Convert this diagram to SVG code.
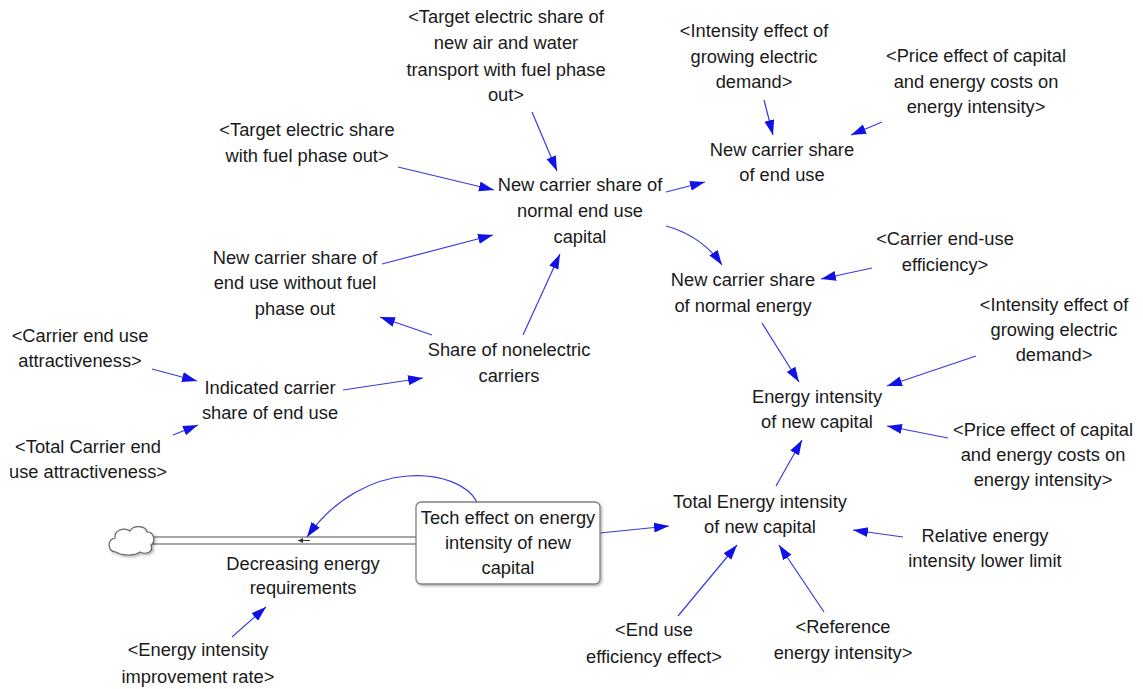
<svg xmlns="http://www.w3.org/2000/svg" width="1143" height="689" viewBox="0 0 1143 689">
  <style>
    text { font-family: "Liberation Sans", Arial, sans-serif; font-size: 18.3px; fill: #1a1a1a; text-anchor: middle; }
    .link { fill: none; stroke: #3a3ae0; stroke-width: 1.2; marker-end: url(#head); }
    .pipe { fill: none; stroke: #8a8a8a; stroke-width: 1.3; }
  </style>
  <defs>
    <marker id="head" markerUnits="userSpaceOnUse" markerWidth="16" markerHeight="12" refX="15" refY="5" orient="auto">
      <path d="M0,0 L15,5 L0,10 Z" fill="#1010e8"/>
    </marker>
    <marker id="tiny" markerUnits="userSpaceOnUse" markerWidth="6" markerHeight="6" refX="5" refY="2.5" orient="auto">
      <path d="M0,0 L5,2.5 L0,5 Z" fill="#333"/>
    </marker>
    <filter id="shadow" x="-10%" y="-10%" width="130%" height="130%">
      <feDropShadow dx="1.5" dy="1.5" stdDeviation="1.2" flood-color="#000" flood-opacity="0.3"/>
    </filter>
  </defs>
  <rect width="1143" height="689" fill="#ffffff"/>

  <!-- flow pipe and cloud source/sink -->
  <g id="flow">
    <line class="pipe" x1="150" y1="537" x2="416" y2="537"/>
    <line class="pipe" x1="150" y1="544" x2="416" y2="544"/>
    <path d="M116,552 C107,551 107,540 115,538 C114,530 124,527 130,531 C133,525 145,525 147,532 C154,532 156,541 151,545 C154,552 146,555 140,552 C135,556 122,556 116,552 Z" fill="#ffffff" stroke="#666" stroke-width="1.2" filter="url(#shadow)"/>
    <line x1="310" y1="540.5" x2="298" y2="540.5" stroke="#333" stroke-width="1" marker-end="url(#tiny)"/>
  </g>

  <!-- connectors -->
  <g id="connectors">
    <path class="link" d="M532,112 L557,171"/>
    <path class="link" d="M398,167 L494,190"/>
    <path class="link" d="M382,264 L493,235"/>
    <path class="link" d="M523,335 L560,254"/>
    <path class="link" d="M432,335 L380,317"/>
    <path class="link" d="M343,390 L423,378"/>
    <path class="link" d="M152,369 L197,381"/>
    <path class="link" d="M173,435 L198,425"/>
    <path class="link" d="M666,192 L705,182"/>
    <path class="link" d="M666,226 Q702,236 722,265"/>
    <path class="link" d="M764,100 L773,135"/>
    <path class="link" d="M882,122 L851,135"/>
    <path class="link" d="M872,268 L821,279"/>
    <path class="link" d="M762,323 L799,382"/>
    <path class="link" d="M976,356 L887,386"/>
    <path class="link" d="M948,438 L887,426"/>
    <path class="link" d="M776,486 L802,440"/>
    <path class="link" d="M600,533 L669,526"/>
    <path class="link" d="M903,537 L853,530"/>
    <path class="link" d="M678,616 L737,545"/>
    <path class="link" d="M824,612 L779,545"/>
    <path class="link" d="M232,637 L266,607"/>
    <path class="link" d="M477,502 C460,468 365,455 307,537"/>
  </g>

  <!-- stock -->
  <g id="tech-effect">
    <rect x="416" y="502" width="184" height="82" rx="5" fill="#ffffff" stroke="#808080" stroke-width="1.3" filter="url(#shadow)"/>
    <text x="508" y="524">Tech effect on energy</text>
    <text x="508" y="549">intensity of new</text>
    <text x="508" y="574">capital</text>
  </g>

  <!-- variables -->
  <g id="target-air-water">
    <text x="506" y="23">&lt;Target electric share of</text>
    <text x="506" y="49">new air and water</text>
    <text x="506" y="76">transport with fuel phase</text>
    <text x="506" y="101">out&gt;</text>
  </g>
  <g id="target-fuel-phase-out">
    <text x="307" y="136">&lt;Target electric share</text>
    <text x="307" y="162">with fuel phase out&gt;</text>
  </g>
  <g id="new-share-normal-capital">
    <text x="580" y="191">New carrier share of</text>
    <text x="580" y="217">normal end use</text>
    <text x="580" y="243">capital</text>
  </g>
  <g id="new-share-end-use">
    <text x="782" y="156">New carrier share</text>
    <text x="782" y="181">of end use</text>
  </g>
  <g id="intensity-effect-top">
    <text x="754" y="37">&lt;Intensity effect of</text>
    <text x="754" y="63">growing electric</text>
    <text x="754" y="88">demand&gt;</text>
  </g>
  <g id="price-effect-top">
    <text x="976" y="62">&lt;Price effect of capital</text>
    <text x="976" y="88">and energy costs on</text>
    <text x="976" y="113">energy intensity&gt;</text>
  </g>
  <g id="new-share-normal-energy">
    <text x="743" y="286">New carrier share</text>
    <text x="743" y="312">of normal energy</text>
  </g>
  <g id="carrier-efficiency">
    <text x="945" y="245">&lt;Carrier end-use</text>
    <text x="945" y="271">efficiency&gt;</text>
  </g>
  <g id="intensity-effect-right">
    <text x="1054" y="311">&lt;Intensity effect of</text>
    <text x="1054" y="336">growing electric</text>
    <text x="1054" y="361">demand&gt;</text>
  </g>
  <g id="energy-intensity-new-capital">
    <text x="817" y="403">Energy intensity</text>
    <text x="817" y="428">of new capital</text>
  </g>
  <g id="price-effect-right">
    <text x="1043" y="436">&lt;Price effect of capital</text>
    <text x="1043" y="461">and energy costs on</text>
    <text x="1043" y="486">energy intensity&gt;</text>
  </g>
  <g id="total-energy-intensity">
    <text x="760" y="508">Total Energy intensity</text>
    <text x="760" y="533">of new capital</text>
  </g>
  <g id="relative-lower-limit">
    <text x="985" y="542">Relative energy</text>
    <text x="985" y="567">intensity lower limit</text>
  </g>
  <g id="end-use-efficiency-effect">
    <text x="654" y="636">&lt;End use</text>
    <text x="654" y="663">efficiency effect&gt;</text>
  </g>
  <g id="reference-energy-intensity">
    <text x="843" y="633">&lt;Reference</text>
    <text x="843" y="659">energy intensity&gt;</text>
  </g>
  <g id="decreasing-requirements">
    <text x="303" y="570">Decreasing energy</text>
    <text x="303" y="594">requirements</text>
  </g>
  <g id="improvement-rate">
    <text x="198" y="656">&lt;Energy intensity</text>
    <text x="198" y="683">improvement rate&gt;</text>
  </g>
  <g id="share-nonelectric">
    <text x="509" y="356">Share of nonelectric</text>
    <text x="509" y="382">carriers</text>
  </g>
  <g id="share-without-phase-out">
    <text x="295" y="264">New carrier share of</text>
    <text x="295" y="289">end use without fuel</text>
    <text x="295" y="315">phase out</text>
  </g>
  <g id="indicated-share">
    <text x="270" y="394">Indicated carrier</text>
    <text x="270" y="419">share of end use</text>
  </g>
  <g id="carrier-attractiveness">
    <text x="80" y="342">&lt;Carrier end use</text>
    <text x="80" y="367">attractiveness&gt;</text>
  </g>
  <g id="total-carrier-attractiveness">
    <text x="88" y="453">&lt;Total Carrier end</text>
    <text x="88" y="478">use attractiveness&gt;</text>
  </g>
</svg>
